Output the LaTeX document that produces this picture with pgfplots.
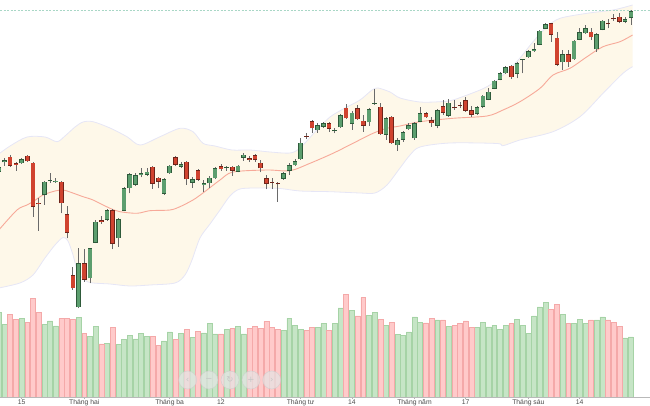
\documentclass[border=0pt]{standalone}
\usepackage{pgfplots}
\pgfplotsset{compat=1.18}
\usepackage{pgfplotstable}
\usepgfplotslibrary{fillbetween}
\usepackage{fontspec}
\setmainfont{Liberation Sans}
\newfontfamily\dejavu{DejaVu Sans}

\definecolor{gfill}{HTML}{5C9E6E}
\definecolor{gedge}{HTML}{2E5A3A}
\definecolor{rfill}{HTML}{D0432F}
\definecolor{redge}{HTML}{6E241A}
\definecolor{wick}{HTML}{6A6A6A}
\definecolor{vgfill}{HTML}{C6E5C6}
\definecolor{vgedge}{HTML}{A6D3A6}
\definecolor{vrfill}{HTML}{FFCACA}
\definecolor{vredge}{HTML}{F4A9A9}
\definecolor{bandfill}{HTML}{FEF8E9}
\definecolor{bandedge}{HTML}{E6E6F6}
\definecolor{smacol}{HTML}{F7A999}
\definecolor{lastcol}{HTML}{A9D7C6}

% up (green) candles: index, open, high, low, close, volume
\pgfplotstableread{
i o h l c v
0 225 232 223 230 84.4
1 234.7 239 231 237 72.4
4 233.7 238.7 233 237.7 78.4
8 202 216 192 215.3 72.4
9 216 223.7 214 217 76.0
10 214.7 218.5 214 216.3 71.0
14 89.7 148.7 88.7 133.7 79.7
16 118.7 149 113.7 148.7 60.7
17 154.3 176.5 153.5 175.3 70.4
19 177 188 176 187 53.7
21 158.7 179 150.3 177.7 52.4
22 186.3 209.5 185.5 208.7 57.4
23 208.7 224 203.7 223 61.7
24 212 224 211 222 58.0
25 221.7 228.7 219.7 223.7 63.7
26 222 228.7 221 225.3 60.7
29 203 219 202 218 56.0
30 223.7 232 223 231.3 65.0
32 230.3 235.3 229 232.7 63.7
34 214.3 219.5 209.3 218 59.7
36 212 217 205.3 213.7 64.0
37 213.7 220.5 208.7 219.3 73.4
38 218.7 229.5 218 228.5 63.0
40 228.7 231 226.3 229.5 67.7
42 225 232 224.5 231.3 70.4
43 239.3 243.7 236.3 242.3 63.0
50 218 225.3 217 223.7 66.7
51 226.3 233.7 222 232 78.7
52 231.5 237.7 231 236 71.7
53 237.7 258.7 237 254.3 67.4
56 266.7 274.3 264.3 272 69.7
57 270 275 269 274 73.4
59 265.7 268.7 263.7 266.5 73.4
60 269.5 283 269 282 89.0
62 273 286 267 284.3 86.7
65 274.5 289 271 287.7 81.7
66 293.2 308 292.3 294.2 84.7
68 262 280 257 278.7 71.7
70 251.7 258.5 246.3 257 62.4
71 257 266 255 264.5 61.7
72 267.7 273.7 267 271.8 65.0
73 258.7 275.3 257 273.7 80.0
74 275.3 290.3 274.5 284 74.7
77 271 288 268.5 287 77.0
79 281 297.7 280.3 294.3 70.4
84 283 290.5 282 289.7 69.7
85 290.3 302 288.7 301.3 74.7
86 297 308.7 296.5 305.3 70.0
87 308 317 307.5 316.3 71.7
88 317 324.5 316.5 323.7 67.7
89 323.7 330.5 323 329.7 71.7
91 323 334.5 318.7 333.7 77.4
92 337 338 323.7 337.7 71.7
93 339.7 347 339 346 63.4
94 346 353.7 345.3 348 81.0
95 352 367 351.5 366.3 90.0
96 368 373.5 367.5 373 94.4
99 334.7 347 327 342.7 82.4
101 337.7 357 337 356.3 73.4
102 357 368.7 356.5 364.7 77.7
103 363.7 372 363.2 368.7 73.4
105 347.7 363.5 345.3 362.7 77.0
106 367 377 366.5 376.3 80.0
110 375.3 380.3 373.7 377.7 59.0
111 379.3 386.5 372 386 60.0
}\upc

% down (red) candles
\pgfplotstableread{
i o h l c v
2 240.3 242 230 231.3 82.4
3 233.7 235.3 226.3 232.3 77.7
5 241.3 242 235 235.7 74.7
6 234.3 235 180.3 190.3 98.4
7 194.3 198.5 166 192.5 84.4
11 215.3 216 183.7 193.7 78.4
12 183 191 158.7 164.3 78.4
13 122 130.3 107 108.7 77.4
15 133.7 147.7 115.3 117 63.4
18 177 181 173 175.3 53.0
20 187 188 147.7 153 69.7
27 230.3 231 208 213 60.7
28 219.3 220 208.7 215.3 51.7
31 239.7 240.5 231 232 57.7
33 235.3 236 212 217.7 67.7
35 227 228 216 217 65.4
39 230.5 232.7 226.3 227.7 63.0
41 230.3 231 221.3 226 68.7
44 238.7 241 235.3 237 68.4
45 242 243 235.3 237 70.4
46 234.3 237 224.7 228.7 68.7
47 218.5 222 207.7 213 75.7
48 215 218.7 207.7 214 69.4
49 213.7 215.3 195.3 212.7 67.7
54 261.2 263.7 257.7 260.2 66.7
55 276 276.5 263.7 268.7 69.4
58 274 275 265.3 268 66.7
61 289.3 292.7 278 278.7 102.7
63 288.7 292 277 277.7 81.0
64 276.3 282 265.3 271.2 99.4
67 290.3 294 262 262.8 77.4
69 280.3 281 253 253.7 74.7
75 283.7 285.3 279 279.7 74.0
76 276.5 280.3 270.3 273.7 78.4
78 291 297 282 284.3 77.0
80 289.7 297 287 288.7 71.7
81 292 295.3 288.7 291.2 73.4
82 297 300.3 285.3 286 76.0
83 287 291 279.7 282 69.7
90 331.3 332 318 319.7 73.4
97 373.7 374 355.3 362 87.7
98 359.3 365.3 331 332 92.7
100 342.7 347 330.3 334.7 73.4
104 365.3 368.7 357 359.7 77.0
107 373.5 377.7 368.7 372.5 77.0
108 378.7 383 376.3 377.7 74.7
109 380.3 383.7 373.7 375.3 70.7
}\downc

\pgfplotstableread{
x y
0 243
1.97 251
4.95 260
8.11 260
10.22 255.3
11.62 261
13.38 270
14.79 275
16.54 275.3
19.53 269
22.51 260.3
24.8 252
28.31 260.3
31.82 268.7
34.1 265.3
35.86 253.7
37.97 251
40.95 247
44.11 247
47.63 245
51.14 244
52.9 249
55.53 265
58.16 280
60.8 289
63.43 297
65.54 307
66.59 309
68.7 305
70.46 299
73.97 295
77.48 295.3
79.76 297
84.51 307
86.79 314
89.25 325.3
91.53 339
93.82 355.3
96.27 370.3
98.56 378.7
103.3 383.7
107.87 387
111.3 392
}\bandup

\pgfplotstableread{
x y
0 109
3.72 114
6.0 122
8.11 139
9.87 152
11.27 159.5
12.15 156
13.03 142
13.91 125
15.66 115
19.53 113
23.04 111
26.55 112
30.94 114
32.7 122
33.93 137
35.33 159
37.09 173
38.85 187
40.6 201
42.36 208
45.87 209
49.38 208.5
52.9 206
58.16 205.3
63.43 204
66.07 204
68.17 212
70.46 229
72.22 242
73.97 250
79.24 254
87.49 253.5
88.55 251.3
91.53 257
97.33 265.3
102.07 280.3
106.11 303.7
109.62 323.7
111.3 330.3
}\bandlo

\pgfplotstableread{
x y
0 167
3.19 187
4.95 192
6.0 195.3
7.76 202
9.87 206
11.27 207
12.5 205
14.79 200.3
16.54 197
19.53 188.7
21.28 185.3
24.27 183.7
26.55 186.3
30.06 187
31.82 190.3
34.1 197
35.86 204
38.85 217
41.13 225
47.1 227
51.14 226.3
54.65 233.7
58.69 243.7
62.2 253.7
65.72 263.7
68.17 268.7
70.46 271
73.97 275.3
79.76 278.7
85.74 281
88.55 287
91.53 295.3
95.05 308.7
97.33 322
100.31 328.7
103.3 340.3
106.11 350.3
109.1 355.3
111.3 362
}\sma

\begin{document}
\begin{tikzpicture}
\begin{axis}[
  at={(0,0)}, anchor=south west,
  scale only axis, width=650pt, height=397pt,
  xmin=0.209, xmax=114.36, ymin=0, ymax=397,
  set layers,
  axis x line*=bottom, axis y line=none,
  x axis line style={gray!55, line width=0.6pt},
  xtick={4,15,30,39,53,62,73,82,93,102},
  xticklabels={15,Tháng hai,Tháng ba,12,Tháng tư,14,Tháng năm,17,Tháng sáu,14},
  tick align=outside, major tick length=2.5pt,
  x tick style={gray!60, line width=0.5pt},
  xticklabel style={font=\fontsize{6.8}{7}\selectfont, text=black!70, inner sep=0pt, text height=5pt, text depth=1.5pt},
  ytick=\empty,
]
% Bollinger band
\addplot[name path=up, draw=bandedge, line width=0.8pt, smooth, forget plot] table[x=x,y=y] {\bandup};
\addplot[name path=lo, draw=bandedge, line width=0.8pt, smooth, forget plot] table[x=x,y=y] {\bandlo};
\addplot[fill=bandfill, draw=none, forget plot] fill between[of=up and lo];
% moving average
\addplot[smacol, line width=0.9pt, smooth, forget plot] table[x=x,y=y] {\sma};
% last price line
\addplot[lastcol, line width=0.8pt, dash pattern=on 2pt off 1.5pt, forget plot] coordinates {(0.209,386.5) (114.36,386.5)};
% volume
\addplot[ybar, bar width=0.86, bar shift=0pt, fill=vgfill, draw=vgedge, line width=0.5pt, forget plot] table[x=i,y=v] {\upc};
\addplot[ybar, bar width=0.86, bar shift=0pt, fill=vrfill, draw=vredge, line width=0.5pt, forget plot] table[x=i,y=v] {\downc};
% wicks
\addplot[draw=none, mark=none, forget plot, error bars/.cd, y dir=plus, y explicit, error mark=none,
  error bar style={draw=wick, line width=0.7pt}]
  table[x=i, y=l, y error expr={\thisrow{h}-\thisrow{l}}] {\upc};
\addplot[draw=none, mark=none, forget plot, error bars/.cd, y dir=plus, y explicit, error mark=none,
  error bar style={draw=wick, line width=0.7pt}]
  table[x=i, y=l, y error expr={\thisrow{h}-\thisrow{l}}] {\downc};
% bodies (outline + fill)
\addplot[draw=none, mark=none, forget plot, error bars/.cd, y dir=plus, y explicit, error mark=none,
  error bar style={draw=gedge, line width=4.6pt}]
  table[x=i, y=o, y error expr={max(\thisrow{c}-\thisrow{o},1.2)}] {\upc};
\addplot[draw=none, mark=none, forget plot, error bars/.cd, y dir=plus, y explicit, error mark=none,
  error bar style={draw=gfill, line width=3.5pt}]
  table[x=i, y expr={\thisrow{o}+0.55}, y error expr={max(\thisrow{c}-\thisrow{o}-1.1,0)}] {\upc};
\addplot[draw=none, mark=none, forget plot, error bars/.cd, y dir=plus, y explicit, error mark=none,
  error bar style={draw=redge, line width=4.6pt}]
  table[x=i, y=c, y error expr={max(\thisrow{o}-\thisrow{c},1.2)}] {\downc};
\addplot[draw=none, mark=none, forget plot, error bars/.cd, y dir=plus, y explicit, error mark=none,
  error bar style={draw=rfill, line width=3.5pt}]
  table[x=i, y expr={\thisrow{c}+0.55}, y error expr={max(\thisrow{o}-\thisrow{c}-1.1,0)}] {\downc};
% navigation buttons
\tikzset{navbtn/.style={circle, minimum size=18pt, inner sep=0pt, fill=white!80!gray, fill opacity=0.7, draw=gray!40, draw opacity=0.7, line width=0.5pt, text opacity=1, text=gray!45, font=\dejavu\fontsize{8.5}{8.5}\selectfont}}
\node[navbtn] at (axis cs:33.17,17) {‹};
\node[navbtn] at (axis cs:36.91,17) {−};
\node[navbtn] at (axis cs:40.6,17) {↻};
\node[navbtn] at (axis cs:44.29,17) {+};
\node[navbtn] at (axis cs:47.93,17) {›};
\end{axis}
\pgfresetboundingbox
\path[use as bounding box] (0,-9pt) rectangle (650pt,397pt);
\end{tikzpicture}
\end{document}
